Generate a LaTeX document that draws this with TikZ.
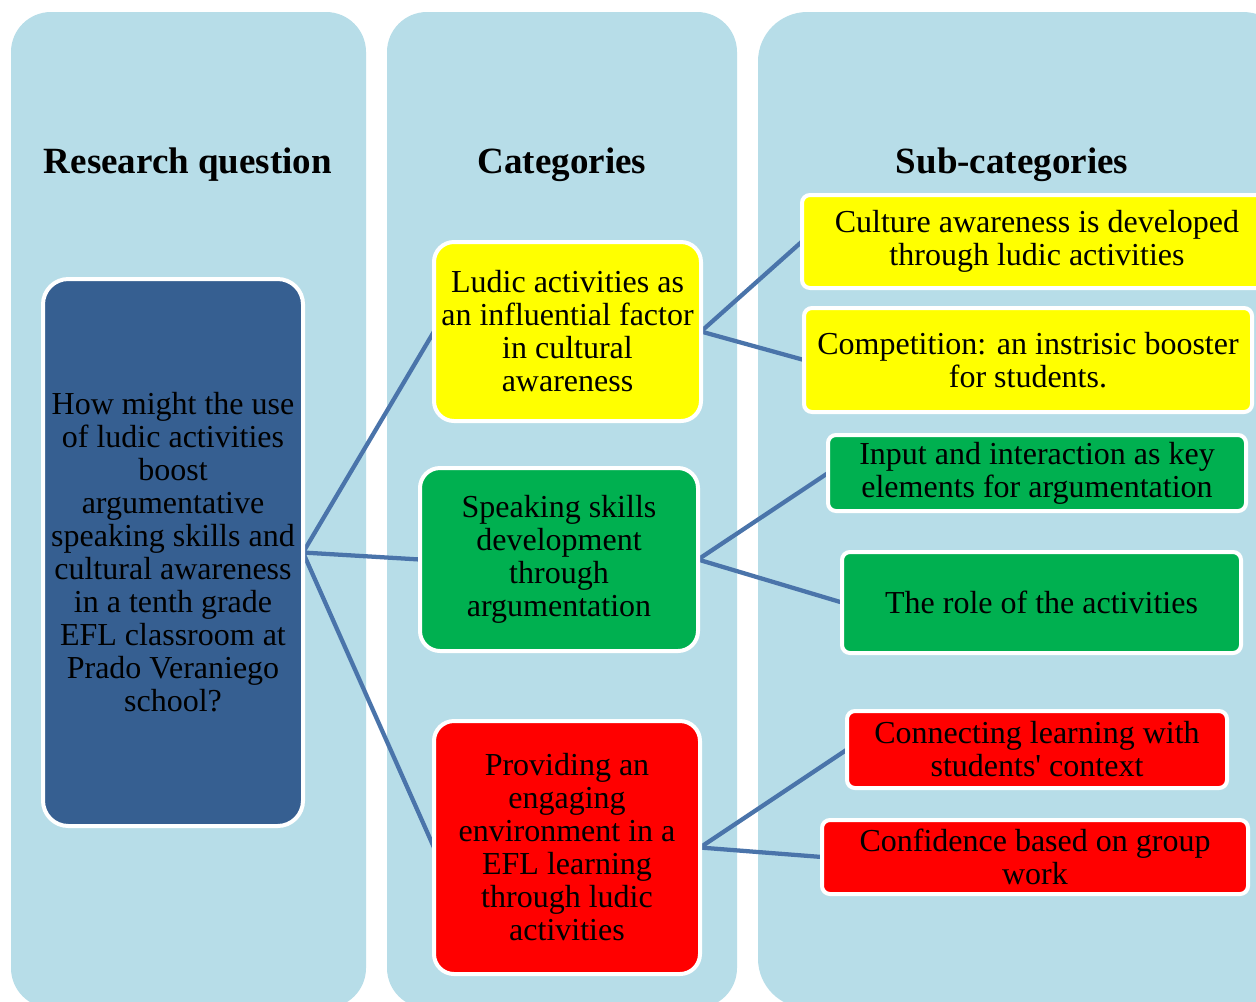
\documentclass[tikz,border=0pt]{standalone}
\usepackage{fontspec}
\setmainfont{Liberation Serif}
\newcommand\mybody{\fontsize{24}{24.75}\selectfont}
\newcommand\mytitle{\fontsize{27.75}{30}\selectfont\bfseries}
\definecolor{colbg}{HTML}{B7DDE8}
\definecolor{rqblue}{HTML}{365F91}
\definecolor{yel}{HTML}{FFFF00}
\definecolor{grn}{HTML}{00B050}
\definecolor{rd}{HTML}{FF0000}
\definecolor{lnk}{HTML}{4A74AA}
\pgfdeclarelayer{cols}
\pgfdeclarelayer{links}
\pgfsetlayers{cols,links,main}
\tikzset{
  box/.style={draw=white, line width=3pt, align=center, inner sep=0pt, outer sep=0pt, font=\mybody, text=black},
  catbox/.style={box, rounded corners=15pt},
  subbox/.style={box, rounded corners=6pt},
  title/.style={font=\mytitle, anchor=base, inner sep=0pt},
  link/.style={draw=lnk, line width=3.2pt},
  column/.style={fill=colbg}
}
\begin{document}
\begin{tikzpicture}[x=0.75pt, y=-0.75pt]
\useasboundingbox (0,0) rectangle (1256,1001);
\clip (0,0) rectangle (1256,1001);
\begin{pgfonlayer}{cols}
  \fill[white] (0,0) rectangle (1256,1001);
  \fill[column, rounded corners=30pt] (11,12) rectangle (366,1008);
  \fill[column, rounded corners=30pt] (387,12) rectangle (737,1008);
  \fill[column, rounded corners=37pt] (758,12) rectangle (1292,1008);
\end{pgfonlayer}

\node[title] (t1) at (188,173) {Research question};
\node[title] (t2) at (562,173) {Categories};
\node[title] (t3) at (1012,173) {Sub-categories};

\node[box, fill=rqblue, rounded corners=19pt, minimum width=195pt, minimum height=410.25pt] (rq) at (173,552.5)
  {How might the use\\of ludic activities\\boost\\argumentative\\speaking skills and\\cultural awareness\\in a tenth grade\\EFL classroom at\\Prado Veraniego\\school?};

\node[catbox, fill=yel, minimum width=200.25pt, minimum height=134.25pt] (c1) at (567.5,331.5)
  {Ludic activities as\\an influential factor\\in cultural\\awareness};
\node[catbox, fill=grn, minimum width=208.5pt, minimum height=137.25pt] (c2) at (559,559.5)
  {Speaking skills\\development\\through\\argumentation};
\node[catbox, fill=rd, minimum width=199.5pt, minimum height=189.75pt] (c3) at (567,847.5)
  {Providing an\\engaging\\environment in a\\EFL learning\\through ludic\\activities};

\node[subbox, fill=yel, minimum width=352.5pt, minimum height=69.75pt] (s1) at (1037,241.5)
  {Culture awareness is developed\\through ludic activities};
\node[subbox, fill=yel, minimum width=336pt, minimum height=78pt] (s2) at (1028,360)
  {Competition: an instrisic booster\\for students.};
\node[subbox, fill=grn, minimum width=313.5pt, minimum height=57pt] (s3) at (1037,473)
  {Input and interaction as key\\elements for argumentation};
\node[subbox, fill=grn, minimum width=299.25pt, minimum height=75.75pt] (s4) at (1041.5,602.5)
  {The role of the activities};
\node[subbox, fill=rd, minimum width=285pt, minimum height=57.75pt] (s5) at (1037,749.5)
  {Connecting learning with\\students\textquotesingle{} context};
\node[subbox, fill=rd, minimum width=319.5pt, minimum height=55.5pt] (s6) at (1035,857)
  {Confidence based on group\\work};

\begin{pgfonlayer}{links}
  \draw[link] (rq.east) -- (c1.west);
  \draw[link] (rq.east) -- (c2.west);
  \draw[link] (rq.east) -- (c3.west);
  \draw[link] (c1.east) -- (s1.west);
  \draw[link] (c1.east) -- (s2.west);
  \draw[link] (c2.east) -- (s3.west);
  \draw[link] (c2.east) -- (s4.west);
  \draw[link] (c3.east) -- (s5.west);
  \draw[link] (c3.east) -- (s6.west);
\end{pgfonlayer}
\end{tikzpicture}
\end{document}
